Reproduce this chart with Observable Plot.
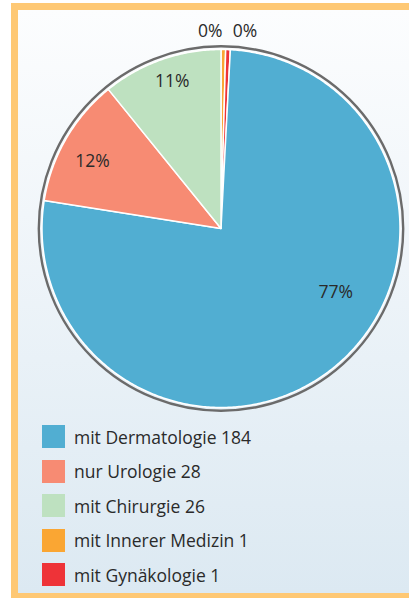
<!DOCTYPE html>
<html>
<head>
<meta charset="utf-8">
<script src="https://cdn.jsdelivr.net/npm/d3@7"></script>
<script src="https://cdn.jsdelivr.net/npm/@observablehq/plot@0.6"></script>
<style>
  html, body { margin: 0; padding: 0; width: 409px; height: 598px; overflow: hidden; background: #ffffff; }
  #frame {
    position: absolute; left: 11px; top: 3px; width: 420px; height: 597px;
    box-sizing: border-box; border: 7px solid #fec874;
    background: linear-gradient(to bottom, #fcfdfe 0%, #f1f6fa 35%, #dce9f2 100%);
  }
  #chart { position: absolute; left: 0; top: 0; }
  #legend { position: absolute; left: 42px; top: 425px; font-family: "Open Sans", sans-serif; font-size: 17.5px; color: #2a2a2a; }
  .row { display: flex; align-items: center; height: 23px; margin-bottom: 11.5px; }
  .sw { width: 23px; height: 23px; margin-right: 9px; flex: none; }
</style>
</head>
<body>
<div id="frame"></div>
<div id="chart"></div>
<div id="legend"></div>
<script>
// ---- data ----
const categories = ["mit Dermatologie", "nur Urologie", "mit Chirurgie", "mit Innerer Medizin", "mit Gynäkologie"];
const counts = [184, 28, 26, 1, 1];
const colors = ["#51aed2", "#f78b73", "#bee1c0", "#faa633", "#ee3338"];
// clockwise order of slices starting at 12 o'clock
const pieOrder = ["mit Innerer Medizin", "mit Gynäkologie", "mit Dermatologie", "nur Urologie", "mit Chirurgie"];

// ---- layout (not data) ----
const W = 409, H = 420;
const cx = 220.5, cy = 228, R = 179;           // pixel geometry of the pie
const labelPlace = {                            // fraction along slice angle, radius fraction
  "mit Dermatologie": {t: 0.42, r: 0.733, anchor: "middle"},
  "nur Urologie": {t: 0.44, r: 0.81, anchor: "middle"},
  "mit Chirurgie": {t: 0.53, r: 0.868, anchor: "middle"},
  "mit Innerer Medizin": {t: 0.5, r: 1.1, anchor: "end"},
  "mit Gynäkologie": {t: 0.5, r: 1.1, anchor: "start"}
};

const total = d3.sum(counts);
const rows = categories.map((c, i) => ({cat: c, count: counts[i], color: colors[i]}));
const ordered = pieOrder.map(c => rows.find(r => r.cat === c));
const arcs = d3.pie().sort(null).value(d => d.count)(ordered);

// build polygon outlines for each slice (unit-radius coordinates, y up)
const poly = [];
for (const a of arcs) {
  poly.push({cat: a.data.cat, x: 0, y: 0});
  const n = Math.max(2, Math.ceil((a.endAngle - a.startAngle) / 0.01));
  for (let k = 0; k <= n; k++) {
    const th = a.startAngle + (a.endAngle - a.startAngle) * k / n;
    poly.push({cat: a.data.cat, x: Math.sin(th), y: Math.cos(th)});
  }
  poly.push({cat: a.data.cat, x: 0, y: 0});
}

const labels = arcs.map(a => {
  const p = labelPlace[a.data.cat];
  const th = a.startAngle + (a.endAngle - a.startAngle) * p.t;
  return {cat: a.data.cat, x: p.r * Math.sin(th), y: p.r * Math.cos(th),
          text: Math.round(a.data.count / total * 100) + "%", anchor: p.anchor};
});

const colorScale = {domain: categories, range: colors};

const plot = Plot.plot({
  width: W, height: H,
  margin: 0,
  style: {background: "transparent", overflow: "visible"},
  x: {domain: [-cx / R, (W - cx) / R], range: [0, W], axis: null},
  y: {domain: [-(H - cy) / R, cy / R], range: [H, 0], axis: null},
  color: colorScale,
  marks: [
    Plot.dot([{x: 0, y: 0}], {x: "x", y: "y", r: R + 3.2, fill: "none", stroke: "#6b6b6b", strokeWidth: 2.4}),
    Plot.line(poly, {x: "x", y: "y", z: "cat", fill: "cat", stroke: "white", strokeWidth: 1.5, strokeLinejoin: "round", curve: "linear"}),
    ...["start", "middle", "end"].map(anc =>
      Plot.text(labels.filter(l => l.anchor === anc), {
        x: "x", y: "y", text: "text", textAnchor: anc,
        dx: anc === "end" ? -1 : anc === "start" ? 4 : 0,
        fill: "#2a2a2a", fontSize: 17.5, fontFamily: "Open Sans, sans-serif", lineAnchor: "middle"
      }))
  ]
});
document.getElementById("chart").appendChild(plot);

// legend
const leg = document.getElementById("legend");
rows.forEach(r => {
  const row = document.createElement("div");
  row.className = "row";
  const sw = document.createElement("div");
  sw.className = "sw";
  sw.style.background = r.color;
  const t = document.createElement("span");
  t.textContent = r.cat + " " + r.count;
  row.appendChild(sw); row.appendChild(t);
  leg.appendChild(row);
});
</script>
</body>
</html>
